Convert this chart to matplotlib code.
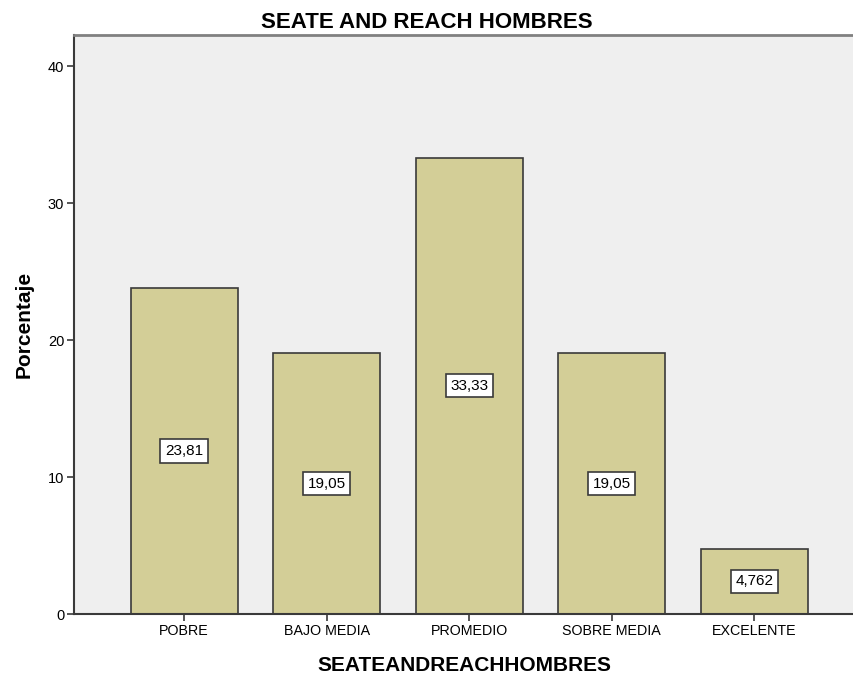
import matplotlib.pyplot as plt

# Datos del gráfico
categorias = ["POBRE", "BAJO MEDIA", "PROMEDIO", "SOBRE MEDIA", "EXCELENTE"]
porcentajes = [23.81, 19.05, 33.33, 19.05, 4.762]
etiquetas = ["23,81", "19,05", "33,33", "19,05", "4,762"]
yticks = [0, 10, 20, 30, 40]

plt.rcParams['font.family'] = ['Liberation Sans', 'DejaVu Sans']

fig = plt.figure(figsize=(8.54, 6.77), dpi=100)
ax = fig.add_axes([0.0867, 0.093, 0.9133, 0.855])
ax.set_facecolor("#EFEFEF")

x = list(range(len(categorias)))
ax.bar(x, porcentajes, width=0.75, color="#D3CE97", edgecolor="#3A3A3A", linewidth=1.2, zorder=2)

# Etiquetas de valor en el centro de cada barra
for xi, val, lab in zip(x, porcentajes, etiquetas):
    ax.text(xi, val / 2, lab, ha="center", va="center", fontsize=11, zorder=3,
            bbox=dict(boxstyle="square,pad=0.3", facecolor="white", edgecolor="#3A3A3A", linewidth=1.2))

ax.set_xlim(-0.772, 4.70)
ax.set_ylim(0, 42.26)
ax.set_xticks(x)
ax.set_xticklabels(categorias, fontsize=10.3)
ax.set_yticks(yticks)
ax.set_yticklabels([str(t) for t in yticks], fontsize=10.5)
ax.tick_params(direction="out", length=5, width=1.2, color="#3A3A3A", pad=2)

ax.spines["left"].set_color("#3A3A3A")
ax.spines["left"].set_linewidth(1.5)
ax.spines["bottom"].set_color("#3A3A3A")
ax.spines["bottom"].set_linewidth(1.5)
ax.spines["top"].set_color("#808080")
ax.spines["top"].set_linewidth(2)
ax.spines["right"].set_visible(False)

# el título va centrado en la figura, no en el área del gráfico
fig.suptitle("SEATE AND REACH HOMBRES", x=0.5, y=0.982, va="top", fontsize=16, fontweight="bold")
ax.set_xlabel("SEATEANDREACHHOMBRES", fontsize=15, fontweight="bold", labelpad=13)
ax.set_ylabel("Porcentaje", fontsize=15, fontweight="bold", labelpad=10)

fig.savefig("out.png", dpi=100)
